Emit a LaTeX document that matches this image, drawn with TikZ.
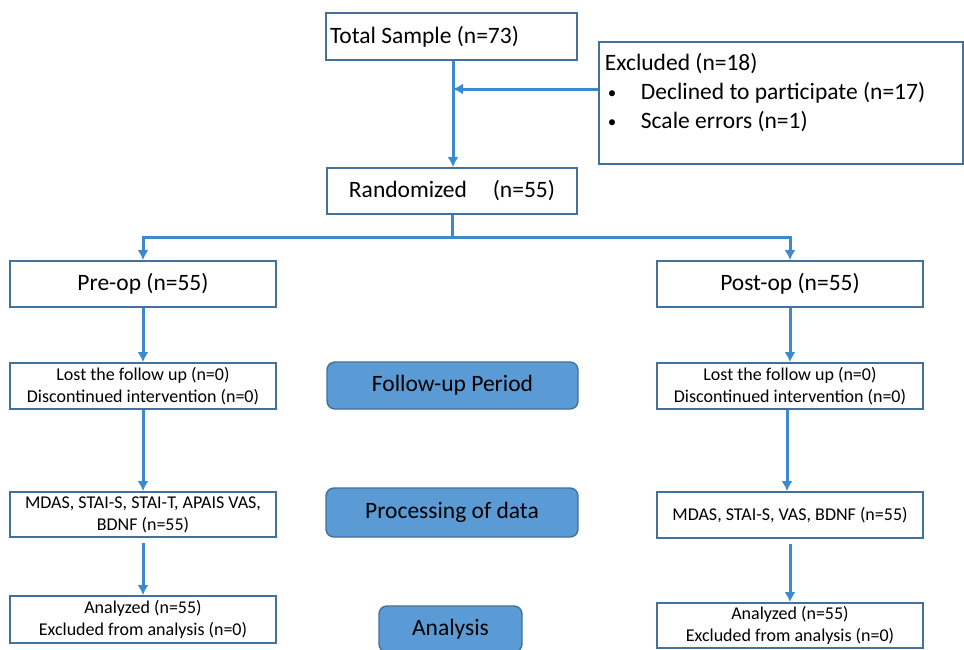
\documentclass[tikz,border=0pt]{standalone}
\usepackage{fontspec}
\setmainfont{Carlito}
\usepackage{tikz}
\usetikzlibrary{arrows.meta}
\definecolor{lineblue}{HTML}{3B8AD0}
\definecolor{edgeblue}{HTML}{41719C}
\definecolor{fillblue}{HTML}{5B9BD5}
\tikzstyle{arrow} = [line width=3pt,lineblue,-{Latex[length=10pt,width=11pt]}]
\tikzstyle{whitebox} = [draw=edgeblue, line width=1.9pt, fill=white, inner sep=0pt, minimum width=266pt]
\tikzstyle{phase} = [draw=edgeblue, line width=1.4pt, fill=fillblue, rounded corners=8pt, inner sep=0pt, font=\fontsize{23.5}{28}\selectfont]
\newcommand{\exbullet}{\makebox[36pt][l]{\hspace{3pt}\raisebox{1pt}{\fontsize{17}{17}\selectfont\textbullet}}}

\begin{document}
\begin{tikzpicture}[x=1pt, y=-1pt, font=\fontsize{18}{22}\selectfont]
  \clip (0,0) rectangle (964,649);
  \fill[white] (0,0) rectangle (964,649);
  \node[whitebox, minimum width=251pt, minimum height=47pt, font=\fontsize{23.5}{28}\selectfont] (total) at (451.5,36.5) {\makebox[243pt][l]{Total Sample (n=73)}};
  \node[whitebox, minimum width=364pt, minimum height=122pt, anchor=north west] (excl) at (598,41) {\parbox[t][118pt][t]{352pt}{\fontsize{23.5}{29}\selectfont\vspace{9pt}Excluded (n=18)\\ \exbullet Declined to participate (n=17)\\ \exbullet Scale errors (n=1)}};
  \node[whitebox, minimum width=250pt, minimum height=46pt, font=\fontsize{23.5}{28}\selectfont] (rand) at (452,191) {Randomized\hspace*{1.1em}(n=55)};
  \node[whitebox, minimum height=46pt, font=\fontsize{23.5}{28}\selectfont] (pre) at (143,284) {Pre-op (n=55)};
  \node[whitebox, minimum height=46pt, font=\fontsize{23.5}{28}\selectfont] (post) at (790,284) {Post-op (n=55)};
  \node[whitebox, minimum height=46pt, align=center] (lostL) at (143,386) {Lost the follow up (n=0)\\Discontinued intervention (n=0)};
  \node[whitebox, minimum height=46pt, align=center] (lostR) at (790,386) {Lost the follow up (n=0)\\Discontinued intervention (n=0)};
  \node[whitebox, minimum height=45pt, align=center] (mdasL) at (143,514.5) {MDAS, STAI-S, STAI-T, APAIS VAS,\\BDNF (n=55)};
  \node[whitebox, minimum height=46pt, align=center] (mdasR) at (790,515) {MDAS, STAI-S, VAS, BDNF (n=55)};
  \node[whitebox, minimum height=47pt, align=center] (anaL) at (143,619.5) {Analyzed (n=55)\\Excluded from analysis (n=0)};
  \node[whitebox, minimum height=45pt, align=center] (anaR) at (790,625.5) {Analyzed (n=55)\\Excluded from analysis (n=0)};
  \node[phase, minimum width=251pt, minimum height=47pt] (follow) at (452.5,385.5) {Follow-up Period};
  \node[phase, minimum width=252pt, minimum height=49pt] (proc) at (452,512.5) {Processing of data};
  \node[phase, minimum width=143pt, minimum height=46pt] (analysis) at (450.5,629) {Analysis};
  \coordinate (join) at (453,89);
  \coordinate (split) at (452,237);
  \draw[arrow] (total.south -| join) -- (rand.north -| join);
  \draw[arrow] (excl.west |- join) -- (join);
  \draw[arrow] (rand.south) -- (split) -| (pre.north);
  \draw[arrow] (split) -| (post.north);
  \draw[arrow] (pre) -- (lostL);
  \draw[arrow] (lostL) -- (mdasL);
  \draw[arrow, shorten <=5pt] (mdasL) -- (anaL);
  \draw[arrow] (post) -- (lostR);
  \draw[arrow] ([xshift=-3pt]lostR.south) -- ([xshift=-3pt]mdasR.north);
  \draw[arrow, shorten <=5pt] (mdasR) -- (anaR);
\end{tikzpicture}
\end{document}
